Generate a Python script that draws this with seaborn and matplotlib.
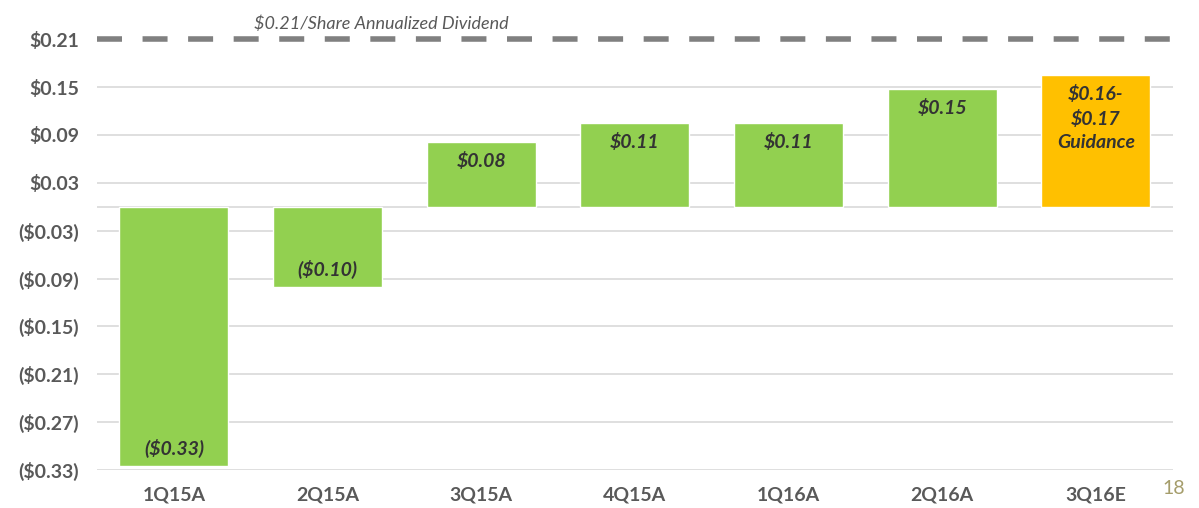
import matplotlib
matplotlib.use("Agg")
import matplotlib.pyplot as plt
import seaborn as sns
import pandas as pd

# data
quarters = ["1Q15A", "2Q15A", "3Q15A", "4Q15A", "1Q16A", "2Q16A", "3Q16E"]
eps = [-0.325, -0.101, 0.081, 0.105, 0.105, 0.1475, 0.165]
labels = ["($0.33)", "($0.10)", "$0.08", "$0.11", "$0.11", "$0.15", "$0.16-\n$0.17\nGuidance"]
bar_colors = ["#92D050"] * 6 + ["#FFC000"]
dividend = 0.21
yticks = [0.21, 0.15, 0.09, 0.03, -0.03, -0.09, -0.15, -0.21, -0.27, -0.33]

df = pd.DataFrame({"quarter": quarters, "eps": eps})

sns.set_style("white")
plt.rcParams["font.family"] = ["Lato", "DejaVu Sans"]

fig = plt.figure(figsize=(11.99, 5.08), dpi=100)
ax = fig.add_axes([0.081, 0.0748, 0.897, 0.856])

sns.barplot(data=df, x="quarter", y="eps", hue="quarter", palette=bar_colors,
            legend=False, width=0.71, saturation=1, ax=ax)

ax.set_xlim(-0.5, 6.5)
ax.set_ylim(-0.33, 0.215)

# grid lines
for t in yticks + [0.0]:
    if t == dividend:
        continue
    ax.axhline(t, color="#d9d9d9", lw=1.2, zorder=0)
ax.axhline(dividend, color="#808080", lw=4, ls=(0, (4.5, 3.7)), zorder=3)
ax.text(1.35, dividend + 0.009, "$0.21/Share Annualized Dividend", ha="center",
        va="bottom", fontsize=13, style="italic", color="#595959", clip_on=False)

for s in ax.spines.values():
    s.set_visible(False)

ax.set_yticks(yticks)
ax.set_yticklabels([f"${t:.2f}" if t > 0 else f"(${-t:.2f})" for t in yticks])
ax.tick_params(axis="both", length=0, labelsize=14, colors="#595959")
ax.tick_params(axis="y", pad=13)
ax.tick_params(axis="x", pad=12)
for lab in ax.get_xticklabels() + ax.get_yticklabels():
    lab.set_fontweight("bold")
ax.set_xlabel("")
ax.set_ylabel("")

# value labels inside bars
for i, (v, lab) in enumerate(zip(eps, labels)):
    if v < 0:
        ax.text(i, v + 0.022, lab, ha="center", va="center", fontsize=14,
                fontweight="bold", style="italic", color="#333333")
    else:
        ax.text(i, v - 0.0125, lab, ha="center", va="top", fontsize=14,
                fontweight="bold", style="italic", color="#333333", linespacing=1.45)

fig.text(0.988, 0.022, "18", ha="right", va="bottom", fontsize=14, color="#A59D6B")

fig.savefig("out.png", dpi=100)
